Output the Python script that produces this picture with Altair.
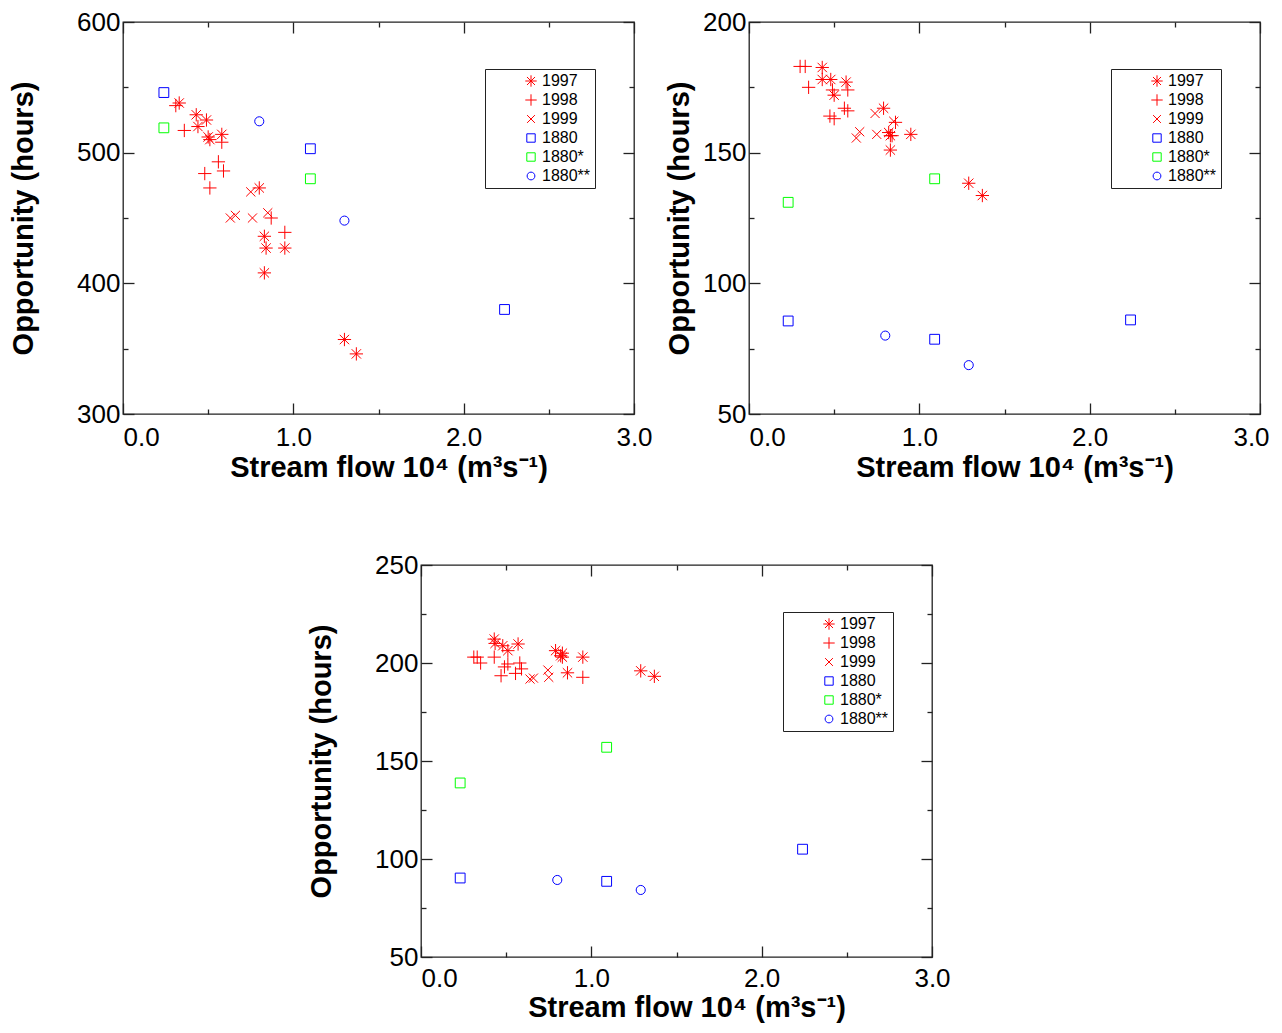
import altair as alt
import pandas as pd

SERIES = ["1997", "1998", "1999", "1880", "1880*", "1880**"]
COLORS = ["#ff0000", "#ff0000", "#ff0000", "#0000ff", "#00ff00", "#0000ff"]

# ---------------- Panel 1 ----------------
p1_x = {
    "1997": [0.33, 0.43, 0.49, 0.44, 0.50, 0.51, 0.58, 0.80, 0.83, 0.84, 0.95, 0.83, 1.30, 1.37],
    "1998": [0.31, 0.36, 0.58, 0.56, 0.48, 0.59, 0.51, 0.87, 0.95],
    "1999": [0.75, 0.63, 0.66, 0.76, 0.85],
    "1880": [0.24, 1.10, 2.24],
    "1880*": [0.24, 1.10],
    "1880**": [0.80, 1.30],
}
p1_y = {
    "1997": [538, 529, 525, 520, 512, 510, 514, 473, 436, 427, 427, 408, 357, 346],
    "1998": [536, 517, 508, 493, 484, 486, 473, 450, 439],
    "1999": [470, 450, 452, 450, 454],
    "1880": [546, 503, 380],
    "1880*": [519, 480],
    "1880**": [524, 448],
}

# ---------------- Panel 2 ----------------
p2_x = {
    "1997": [0.43, 0.43, 0.48, 0.57, 0.50, 0.79, 0.82, 0.83, 0.95, 0.83, 1.29, 1.37],
    "1998": [0.30, 0.33, 0.35, 0.58, 0.49, 0.56, 0.58, 0.475, 0.50, 0.86, 0.84],
    "1999": [0.74, 0.85, 0.65, 0.63, 0.75],
    "1880": [0.23, 1.09, 2.24],
    "1880*": [0.23, 1.09],
    "1880**": [0.80, 1.29],
}
p2_y = {
    "1997": [182.6, 178, 178, 177, 172, 167, 157.7, 156.5, 157, 151, 138.3, 133.6],
    "1998": [183, 183, 175, 174, 174, 167, 166, 164, 163, 161.6, 156.5],
    "1999": [165, 162, 158, 155.6, 157],
    "1880": [85.6, 78.6, 86],
    "1880*": [131, 140],
    "1880**": [80, 68.7],
}

# ---------------- Panel 3 ----------------
p3_x = {
    "1997": [0.43, 0.435, 0.48, 0.51, 0.57, 0.79, 0.82, 0.83, 0.83, 0.86, 0.95, 1.29, 1.37],
    "1998": [0.31, 0.33, 0.35, 0.43, 0.51, 0.49, 0.58, 0.59, 0.47, 0.555, 0.95],
    "1999": [0.64, 0.66, 0.745, 0.75],
    "1880": [0.23, 1.09, 2.24],
    "1880*": [0.23, 1.09],
    "1880**": [0.80, 1.29],
}
p3_y = {
    "1997": [212.2, 210, 208.8, 206.3, 209.7, 206.3, 203.7, 203, 205, 195, 203, 196, 193.2],
    "1998": [203, 203, 200, 203, 199.5, 198, 200, 197, 193.5, 194.7, 192.7],
    "1999": [191.8, 192.3, 196.4, 192.7],
    "1880": [90.3, 88.6, 105],
    "1880*": [138.8, 157],
    "1880**": [89.3, 84.2],
}

X_MAJOR = [0, 1, 2, 3]
X_MINOR = [0.5, 1.5, 2.5]

# symbol shapes
AST = "M-0.95,0L0.95,0M0,-0.95L0,0.95M-0.67,-0.67L0.67,0.67M-0.67,0.67L0.67,-0.67"
PLUS = "M-0.95,0L0.95,0M0,-0.95L0,0.95"
XS = "M-0.65,-0.65L0.65,0.65M-0.65,0.65L0.65,-0.65"
SQ = "M-0.7,-0.7L0.7,-0.7L0.7,0.7L-0.7,0.7Z"
CIR = "M0.65,0A0.65,0.65,0,1,1,-0.65,0A0.65,0.65,0,1,1,0.65,0Z"
SHAPES = [AST, PLUS, XS, SQ, SQ, CIR]

W, H = 511, 392
FONT = "Liberation Sans"
LINE = "#222222"
XTITLE = "Stream flow 10\u2074 (m\u00b3s\u207b\u00b9)"
YTITLE = "Opportunity (hours)"


def panel(px, py, ydom, ymaj, ymin, ytitle_pad, last_shift, lab_pad, tit_pad):
    rows = []
    for s in SERIES:
        for a, b in zip(px[s], py[s]):
            rows.append({"flow": a, "hours": b, "series": s})
    df = pd.DataFrame(rows)
    xsc = alt.Scale(domain=[0, 3], nice=False, zero=False)
    ysc = alt.Scale(domain=ydom, nice=False, zero=False)
    base = alt.Chart(df)
    leg = alt.Legend(
        title=None, orient="none", legendX=362, legendY=47,
        fillColor="white", strokeColor=LINE, padding=4, rowPadding=3,
        symbolOffset=34, symbolSize=144, symbolStrokeWidth=1,
        labelFont=FONT, labelFontSize=16, labelColor="black", labelOffset=3,
    )
    pts = base.mark_point(filled=False, size=196, strokeWidth=1, opacity=1).encode(
        x=alt.X("flow:Q", scale=xsc, axis=alt.Axis(
            orient="bottom", values=X_MAJOR, format=".1f", ticks=False, domain=False,
            grid=False, labelPadding=lab_pad, labelFlush=False, labelOverlap=False,
            labelAlign={"condition": {"test": "datum.value == 0", "value": "left"}, "value": "center"},
            labelOffset={"condition": {"test": "datum.value == 3", "value": last_shift}, "value": 0},
            title=XTITLE, titlePadding=tit_pad, titleX=W / 2 + 10)),
        y=alt.Y("hours:Q", scale=ysc, axis=alt.Axis(
            orient="left", values=ymaj, format="d", ticks=False, domain=False,
            grid=False, labelPadding=3, labelOverlap=False,
            title=YTITLE, titlePadding=ytitle_pad)),
        color=alt.Color("series:N", scale=alt.Scale(domain=SERIES, range=COLORS), legend=leg),
        shape=alt.Shape("series:N", scale=alt.Scale(domain=SERIES, range=SHAPES), legend=leg),
    )

    def ticks(xvals, yvals, xorient, yorient, size):
        common = dict(labels=False, domain=False, grid=False, tickSize=size,
                      tickColor=LINE, tickWidth=1.3)
        return base.mark_point(opacity=0).encode(
            x=alt.X("flow:Q", scale=xsc, title=None,
                    axis=alt.Axis(orient=xorient, offset=-H, values=xvals, **common)),
            y=alt.Y("hours:Q", scale=ysc, title=None,
                    axis=alt.Axis(orient=yorient, offset=-W, values=yvals, **common)),
        )

    layers = [
        pts,
        ticks(X_MAJOR, ymaj, "top", "right", 11),
        ticks(X_MINOR, ymin, "top", "right", 5),
        ticks(X_MAJOR, ymaj, "bottom", "left", 11),
        ticks(X_MINOR, ymin, "bottom", "left", 5),
    ]
    return alt.layer(*layers).resolve_axis(x="independent", y="independent").properties(width=W, height=H)


c1 = panel(p1_x, p1_y, [300, 600], [300, 400, 500, 600], [350, 450, 550], 38, 0, 10, 3)
c2 = panel(p2_x, p2_y, [50, 200], [50, 100, 150, 200], [75, 125, 175], 8, -9, 10, 3)
c3 = panel(p3_x, p3_y, [50, 250], [50, 100, 150, 200, 250], [75, 125, 175, 225], 38, 0, 8, 2)

spacer = alt.Chart(pd.DataFrame({"v": [0]})).mark_point(opacity=0).encode(
    x=alt.X("v:Q", axis=None), y=alt.Y("v:Q", axis=None)
).properties(width=183, height=10, view=alt.ViewBackground(strokeOpacity=0))

top = alt.hconcat(c1, c2, spacing=11).resolve_scale(color="independent", shape="independent")
bottom = alt.hconcat(spacer, c3, spacing=0).resolve_scale(color="independent", shape="independent")

chart = alt.vconcat(top, bottom, spacing=68).resolve_scale(
    color="independent", shape="independent"
).properties(
    padding={"left": 0, "top": 0, "right": 0, "bottom": 0}
).configure_view(
    stroke=LINE, strokeWidth=1.3
).configure_axis(
    labelFont=FONT, titleFont=FONT, labelFontSize=26, titleFontSize=29,
    titleFontWeight="bold", labelColor="black", titleColor="black",
)

chart.save("out.html", embed_options={"renderer": "svg", "actions": False})
